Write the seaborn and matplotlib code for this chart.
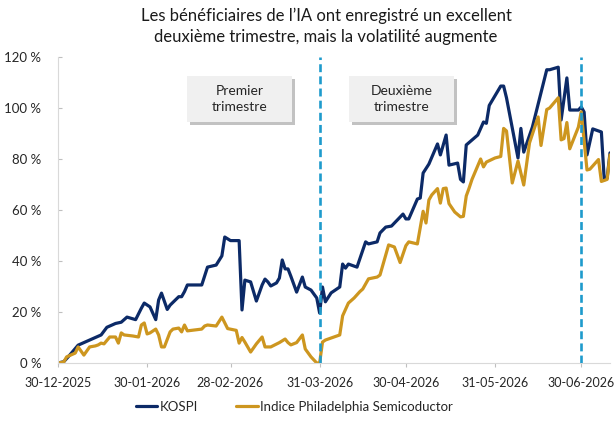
# KOSPI vs Philadelphia Semiconductor index, cumulative performance since 30-12-2025

import pandas as pd
import matplotlib
matplotlib.use('Agg')
import matplotlib.pyplot as plt
import matplotlib.patheffects as pe
from matplotlib.patches import Rectangle
from matplotlib.ticker import FuncFormatter
import seaborn as sns

start_date = '2025-12-30'

# days since start, cumulative return in %
kospi_day = [0, 2, 4, 7, 9, 10, 13, 15, 17, 20, 22, 24, 27, 29, 30, 32, 34, 35, 36, 38,
             39, 42, 43, 44, 45, 50, 52, 55, 57, 58, 60, 63, 64, 65, 67, 69, 71, 72, 73, 74,
             76, 77, 78, 79, 80, 81, 83, 85, 86, 88, 90, 91, 92, 93, 95, 98, 99, 100, 101, 104,
             107, 108, 111, 112, 114, 116, 120, 121, 122, 125, 126, 127, 129, 132, 133, 135, 136, 139, 140, 141,
             142, 146, 148, 149, 150, 154, 155, 156, 160, 161, 162, 165, 170, 171, 174, 175, 177, 178, 181, 182,
             183, 184, 186, 189, 190, 191, 192]
kospi_pct = [0, 0.5, 3, 7, 8, 8.5, 10, 11, 14, 15.5, 16, 18, 17, 21.5, 23.5, 22, 17, 24.7, 27.4, 21,
             22.7, 26, 26, 28, 30.6, 30.6, 37.6, 38.4, 42, 49.4, 48, 48, 20.8, 32.5, 31.8, 24.3, 30.6, 32.9, 31.8, 30.2,
             31.4, 33.3, 40.4, 36.9, 36.9, 34, 27.8, 33.7, 29.8, 28.6, 25.5, 19.6, 29.8, 24, 27.5, 29.8, 38.8, 37.2, 38.8, 37.6,
             47.5, 46.7, 47.5, 51, 53.3, 53.7, 58.4, 56.5, 56.5, 64.3, 64.7, 74.5, 78, 85.9, 81.6, 89.4, 77.6, 78.4, 72, 71,
             85.5, 89.4, 94.5, 94, 101, 108.6, 108.6, 104, 80.4, 92, 82.7, 92.5, 115, 115, 116, 95.3, 111.8, 99.2, 99.2, 100.4,
             98.4, 81.6, 91.8, 90.6, 71.8, 72.5, 82.4]

sox_day = [0, 2, 3, 6, 7, 8, 9, 11, 13, 14, 15, 16, 18, 20, 21, 22, 23, 26, 28, 29,
           30, 31, 32, 34, 35, 36, 37, 39, 40, 42, 43, 44, 45, 50, 51, 52, 55, 57, 59, 62,
           63, 64, 65, 67, 69, 71, 72, 74, 77, 79, 80, 81, 83, 85, 86, 88, 90, 91, 92, 93,
           98, 99, 101, 103, 105, 106, 108, 111, 112, 115, 117, 119, 121, 122, 125, 127, 128, 129, 130, 132,
           133, 134, 135, 136, 138, 140, 141, 142, 143, 144, 147, 148, 149, 152, 154, 155, 156, 158, 160, 162,
           164, 167, 168, 170, 171, 174, 175, 176, 177, 178, 181, 182, 184, 185, 188, 189, 191, 192]
sox_pct = [0, 0.4, 2.4, 3.9, 6.3, 4.7, 3.1, 6.3, 6.7, 7.1, 7.8, 7.5, 10.2, 10.2, 7.8, 11.8, 11, 10.6, 10.2, 14.9,
           15.7, 11.4, 11.8, 13.3, 11, 6.3, 6.3, 12.2, 13.3, 13.7, 12.2, 14.9, 12.6, 13.3, 14.5, 14.9, 14.5, 18, 13.5, 12.8,
           7.8, 10, 8.2, 4.3, 7.5, 10.2, 6.3, 6.3, 8, 9.4, 8, 7.1, 8, 11, 5.5, 2.4, 0, 0, 8.2, 9,
           11, 18.5, 23.5, 25.5, 28, 29, 33, 33.7, 34.5, 46.3, 45.5, 39.4, 46, 47.5, 46.7, 59.5, 54.9, 63.9, 65.9, 68.4,
           62.7, 68.4, 68.6, 62.5, 59.2, 57.3, 57.5, 65.5, 68.6, 72, 80, 76.9, 78.8, 80.4, 81, 92, 91, 70.6, 79.2, 69.8,
           86.3, 96.5, 85.3, 99.4, 100, 104, 87.5, 88, 94.3, 84, 92.5, 98.5, 75.7, 76, 79.8, 71.2, 72, 81.6]

series_names = ['KOSPI', 'Indice Philadelphia Semicoductor']
quarter_ends = ['2026-03-31', '2026-06-30']
tick_dates = ['2025-12-30', '2026-01-30', '2026-02-28', '2026-03-31', '2026-04-30', '2026-05-31', '2026-06-30']
y_ticks = [0, 20, 40, 60, 80, 100, 120]

navy = '#0c2a67'
gold = '#cd961f'
teal = '#1e9bcc'

t0 = pd.Timestamp(start_date)
df = pd.concat([
    pd.DataFrame({'date': t0 + pd.to_timedelta(kospi_day, unit='D'), 'pct': kospi_pct, 'serie': series_names[0]}),
    pd.DataFrame({'date': t0 + pd.to_timedelta(sox_day, unit='D'), 'pct': sox_pct, 'serie': series_names[1]}),
])

sns.set_style('ticks')
plt.rcParams['font.family'] = ['Lato', 'DejaVu Sans']

fig = plt.figure(figsize=(6.15, 4.25), dpi=100)
ax = fig.add_axes([58 / 615, 62 / 425, 552 / 615, 306 / 425])

sns.lineplot(data=df, x='date', y='pct', hue='serie', palette=[navy, gold],
             linewidth=2.3, ax=ax, zorder=2)

for d in quarter_ends:
    ax.axvline(pd.Timestamp(d), color=teal, lw=1.9, ls=(0, (3.0, 1.6)), zorder=4)

ax.set_xlim(t0, t0 + pd.Timedelta(days=max(kospi_day)))
ax.set_ylim(0, 120)
ax.set_yticks(y_ticks)
ax.yaxis.set_major_formatter(FuncFormatter(lambda v, p: f'{v:.0f} %'))
ticks = pd.to_datetime(tick_dates)
ax.set_xticks(ticks)
ax.set_xticklabels([t.strftime('%d-%m-%Y') for t in ticks])
ax.set_xlabel('')
ax.set_ylabel('')
ax.tick_params(axis='both', length=3, color='#bfbfbf', labelsize=9, labelcolor='#262626')
ax.tick_params(axis='x', pad=7)
ax.tick_params(axis='y', direction='in', pad=12, labelsize=9.5)
for s in ['top', 'right']:
    ax.spines[s].set_visible(False)
for s in ['left', 'bottom']:
    ax.spines[s].set_color('#d9d9d9')

# quarter labels
for x0, label in [(0.234, 'Premier\ntrimestre'), (0.527, 'Deuxième\ntrimestre')]:
    box = Rectangle((x0, 0.788), 0.19, 0.15, transform=ax.transAxes,
                    facecolor='#f0f0f0', edgecolor='none', zorder=3)
    box.set_path_effects([pe.withSimplePatchShadow(offset=(2, -2), shadow_rgbFace='#9a9a9a', alpha=0.6),
                          pe.Normal()])
    ax.add_patch(box)
    ax.text(x0 + 0.095, 0.863, label, transform=ax.transAxes, ha='center', va='center',
            fontsize=10, color='#262626', linespacing=1.35, zorder=4)

handles, labels = ax.get_legend_handles_labels()
ax.legend_.remove()
fig.legend(handles, labels, loc='center', bbox_to_anchor=(294 / 615, 1 - 407 / 425), ncol=2,
           frameon=False, handlelength=1.65, handletextpad=0.15, columnspacing=2.9, fontsize=9.5)

fig.text(326 / 615, 1 - 8 / 425, 'Les bénéficiaires de l’IA ont enregistré un excellent\n'
         'deuxième trimestre, mais la volatilité augmente',
         ha='center', va='top', fontsize=12, color='#1a1a1a', linespacing=1.38)

fig.savefig('out.png', dpi=100)
